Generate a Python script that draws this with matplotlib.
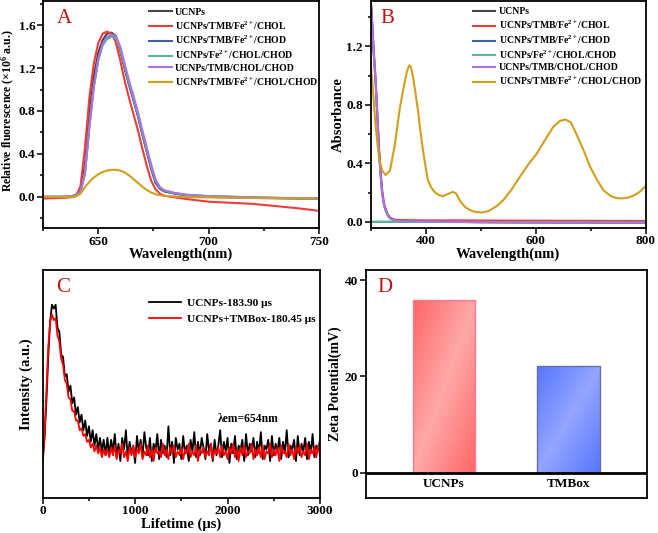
import numpy as np
import matplotlib
matplotlib.use('Agg')
import matplotlib.pyplot as plt
from matplotlib.ticker import MultipleLocator

plt.rcParams['font.family'] = ['Liberation Serif', 'DejaVu Serif']
plt.rcParams['font.weight'] = 'bold'
plt.rcParams['axes.labelweight'] = 'bold'
plt.rcParams['mathtext.fontset'] = 'custom'
plt.rcParams['mathtext.rm'] = 'Liberation Serif:bold'
plt.rcParams['mathtext.bf'] = 'Liberation Serif:bold'
plt.rcParams['mathtext.it'] = 'Liberation Serif:bold:italic'

### data
labels = ['UCNPs', 'UCNPs/TMB/Fe$^{2+}$/CHOL', 'UCNPs/TMB/Fe$^{2+}$/CHOD',
          'UCNPs/Fe$^{2+}$/CHOL/CHOD', 'UCNPs/TMB/CHOL/CHOD', 'UCNPs/TMB/Fe$^{2+}$/CHOL/CHOD']
colors = ['#454545', '#f23a3a', '#3b60a6', '#58b89e', '#ac72de', '#d29f1c']

# panel A - fluorescence
wl_a = [625, 630, 635, 638, 640, 642, 644, 646, 648, 650, 652, 654, 656, 658, 660, 662, 664,
        666, 668, 670, 672, 674, 676, 678, 680, 685, 690, 700, 710, 720, 730, 740, 750]
fl_ucnp = [0.0, 0.0, 0.0, 0.005, 0.02, 0.07, 0.30, 0.78, 1.12, 1.34, 1.46, 1.52, 1.53, 1.50, 1.36, 1.19,
           1.04, 0.90, 0.75, 0.58, 0.42, 0.26, 0.13, 0.075, 0.05, 0.03, 0.015, 0.0, -0.005, -0.01,
           -0.012, -0.015, -0.018]
fl_chol = [-0.015, -0.012, -0.008, -0.003, 0.01, 0.10, 0.45, 0.92, 1.24, 1.43, 1.52, 1.54, 1.52, 1.44,
           1.27, 1.08, 0.92, 0.77, 0.62, 0.45, 0.29, 0.15, 0.07, 0.03, 0.01, -0.005, -0.02, -0.045,
           -0.055, -0.065, -0.085, -0.105, -0.13]
fl_chod = [0.0, 0.0, 0.0, 0.005, 0.015, 0.05, 0.22, 0.66, 1.03, 1.28, 1.42, 1.48, 1.50, 1.49, 1.38,
           1.21, 1.05, 0.91, 0.76, 0.59, 0.43, 0.27, 0.14, 0.08, 0.055, 0.03, 0.015, 0.005, 0.0,
           -0.005, -0.01, -0.012, -0.015]
fl_fe = [0.0, 0.0, 0.0, 0.005, 0.015, 0.05, 0.22, 0.65, 1.02, 1.27, 1.41, 1.47, 1.49, 1.48, 1.38,
         1.21, 1.06, 0.92, 0.77, 0.60, 0.44, 0.28, 0.15, 0.085, 0.06, 0.035, 0.02, 0.008, 0.002,
         -0.004, -0.008, -0.012, -0.015]
fl_tmb = [0.0, 0.0, 0.0, 0.005, 0.015, 0.05, 0.22, 0.65, 1.02, 1.28, 1.43, 1.49, 1.51, 1.50, 1.40,
          1.24, 1.08, 0.94, 0.79, 0.62, 0.46, 0.30, 0.16, 0.09, 0.06, 0.035, 0.02, 0.005, 0.0,
          -0.005, -0.01, -0.012, -0.015]
fl_all = [0.0, 0.0, 0.0, 0.002, 0.005, 0.03, 0.09, 0.14, 0.18, 0.21, 0.232, 0.245, 0.252, 0.252,
          0.245, 0.228, 0.20, 0.165, 0.13, 0.095, 0.065, 0.04, 0.025, 0.015, 0.01, 0.004, 0.0,
          -0.005, -0.008, -0.01, -0.012, -0.014, -0.016]

# panel B - absorbance
wl_b = [300, 302, 305, 309, 312, 315, 318, 321, 324, 327, 331, 335, 340, 344, 350, 360, 380, 400,
        450, 500, 600, 700, 800]
ab_chol = [1.52, 1.41, 1.20, 0.97, 0.74, 0.51, 0.34, 0.21, 0.13, 0.09, 0.05, 0.03, 0.02, 0.015,
           0.013, 0.012, 0.011, 0.01, 0.01, 0.009, 0.008, 0.007, 0.006]
ab_chod = [1.52, 1.40, 1.18, 0.95, 0.72, 0.49, 0.32, 0.19, 0.12, 0.08, 0.045, 0.025, 0.015, 0.01,
           0.006, 0.004, 0.003, 0.002, 0.0, -0.002, -0.004, -0.005, -0.006]
ab_tmb = [1.52, 1.40, 1.18, 0.95, 0.72, 0.49, 0.32, 0.19, 0.12, 0.08, 0.045, 0.025, 0.015, 0.01,
          0.006, 0.004, 0.003, 0.002, 0.0, -0.002, -0.004, -0.005, -0.006]
wl_flat = [300, 400, 500, 600, 700, 800]
ab_ucnp = [0.0, 0.0, -0.002, -0.003, -0.004, -0.005]
ab_fe = [0.0, 0.0, -0.001, -0.002, -0.003, -0.004]
wl_b_all = [300, 304, 309, 315, 321, 327, 335, 344, 353, 362, 366, 370, 373, 377, 381, 386, 390,
            395, 400, 404, 410, 416, 423, 431, 440, 449, 455, 460, 464, 472, 482, 490, 502, 515,
            530, 541, 556, 571, 586, 602, 617, 632, 644, 654, 664, 674, 687, 699, 711, 723, 735,
            746, 756, 767, 778, 789, 800]
ab_all = [1.08, 0.90, 0.65, 0.44, 0.35, 0.32, 0.35, 0.53, 0.78, 0.96, 1.03, 1.07, 1.06, 0.99, 0.89,
          0.76, 0.63, 0.49, 0.37, 0.285, 0.235, 0.205, 0.185, 0.175, 0.19, 0.205, 0.195, 0.16,
          0.135, 0.10, 0.078, 0.068, 0.064, 0.075, 0.11, 0.148, 0.22, 0.307, 0.39, 0.467, 0.56,
          0.65, 0.69, 0.70, 0.68, 0.60, 0.49, 0.376, 0.29, 0.217, 0.18, 0.163, 0.16, 0.165, 0.18,
          0.205, 0.245]

# panel C - lifetime decay (0 to 3000 us, every 20 us)
decay_ucnp = [0.19, 0.31, 0.50, 0.73, 0.91, 1.00, 0.98, 1.00, 0.88, 0.86, 0.74, 0.73, 0.63, 0.64,
              0.55, 0.58, 0.49, 0.52, 0.43, 0.47, 0.39, 0.43, 0.35, 0.40, 0.32, 0.37, 0.29, 0.35,
              0.27, 0.33, 0.25, 0.31, 0.24, 0.30, 0.22, 0.31,
              0.22, 0.30, 0.24, 0.33, 0.21, 0.28, 0.19, 0.31, 0.25, 0.35, 0.20, 0.29, 0.23, 0.27,
              0.18, 0.32, 0.24, 0.30, 0.21, 0.34, 0.26, 0.22, 0.31, 0.19, 0.28, 0.24, 0.33, 0.20,
              0.30, 0.23, 0.27, 0.21, 0.37, 0.22, 0.29, 0.18, 0.31, 0.25, 0.28, 0.20, 0.32, 0.23,
              0.27, 0.19, 0.30, 0.24, 0.34, 0.21, 0.29, 0.22, 0.31, 0.26, 0.20, 0.33, 0.24, 0.28,
              0.19, 0.30, 0.22, 0.27, 0.35, 0.21, 0.29, 0.24, 0.31, 0.18, 0.28, 0.23, 0.32, 0.20,
              0.27, 0.25, 0.30, 0.19, 0.33, 0.22, 0.28, 0.24, 0.31, 0.21, 0.29, 0.23, 0.34, 0.20,
              0.27, 0.25, 0.30, 0.19, 0.32, 0.22, 0.28, 0.24, 0.31, 0.20, 0.29, 0.23, 0.35, 0.21,
              0.27, 0.25, 0.30, 0.19, 0.32, 0.22, 0.28, 0.24, 0.31, 0.20, 0.29, 0.23, 0.33, 0.21,
              0.27, 0.25, 0.30]
decay_tmbox = [0.19, 0.33, 0.55, 0.78, 0.91, 0.95, 0.92, 0.93, 0.84, 0.81, 0.72, 0.69, 0.61, 0.59,
               0.52, 0.51, 0.45, 0.45, 0.40, 0.40, 0.35, 0.36, 0.32, 0.33, 0.29, 0.30, 0.26, 0.28,
               0.24, 0.27, 0.23, 0.26, 0.21, 0.25, 0.22, 0.25,
               0.21, 0.26, 0.22, 0.27, 0.20, 0.25, 0.23, 0.28, 0.21, 0.24, 0.19, 0.26, 0.22, 0.27,
               0.21, 0.25, 0.23, 0.28, 0.20, 0.24, 0.22, 0.27, 0.21, 0.25, 0.19, 0.26, 0.23, 0.24,
               0.21, 0.28, 0.22, 0.25, 0.20, 0.26, 0.23, 0.27, 0.21, 0.24, 0.22, 0.26, 0.20, 0.25,
               0.23, 0.28, 0.21, 0.24, 0.22, 0.27, 0.19, 0.25, 0.23, 0.26, 0.21, 0.24, 0.22, 0.28,
               0.20, 0.25, 0.23, 0.26, 0.21, 0.27, 0.22, 0.24, 0.20, 0.26, 0.23, 0.28, 0.21, 0.25,
               0.19, 0.26, 0.22, 0.27, 0.21, 0.24, 0.23, 0.28, 0.20, 0.25, 0.22, 0.26, 0.21, 0.27,
               0.20, 0.24, 0.23, 0.28, 0.21, 0.25, 0.22, 0.26, 0.19, 0.27, 0.23, 0.24, 0.21, 0.28,
               0.22, 0.25, 0.20, 0.26, 0.23, 0.27, 0.21, 0.24, 0.22, 0.28, 0.20, 0.25, 0.23, 0.26,
               0.21, 0.27, 0.22]

# panel D - zeta potential
zeta_names = ['UCNPs', 'TMBox']
zeta_values = [35.8, 22.2]


def style_axes(ax):
    for sp in ax.spines.values():
        sp.set_linewidth(1.3)
    ax.tick_params(which='both', direction='out', width=1.1, labelsize=9.5, pad=1.5)
    ax.tick_params(which='major', length=4)
    ax.tick_params(which='minor', length=2.5)


def panel_letter(ax, letter, x, y):
    ax.text(x, y, letter, transform=ax.transAxes, fontsize=15, fontweight='normal',
            color='#c41010', ha='left', va='top')


fig = plt.figure(figsize=(6.58, 5.33), dpi=100)

leg_kw = dict(loc='upper left', frameon=False, fontsize=7, handlelength=2.3,
              handletextpad=0.35, labelspacing=0.25, borderpad=0, borderaxespad=0)

### panel A
axA = fig.add_axes([0.0653, 0.5722, 0.4195, 0.425])
series_a = [fl_ucnp, fl_chol, fl_chod, fl_fe, fl_tmb, fl_all]
for vals, c, lab in zip(series_a, colors, labels):
    axA.plot(wl_a, vals, color=c, lw=1.5, label=lab)
axA.set_xlim(625, 750)
axA.set_ylim(-0.29, 1.82)
axA.set_xticks([650, 700, 750])
axA.set_yticks([0.0, 0.4, 0.8, 1.2, 1.6])
axA.xaxis.set_minor_locator(MultipleLocator(25))
axA.yaxis.set_minor_locator(MultipleLocator(0.2))
axA.set_xlabel('Wavelength(nm)', fontsize=10.5)
axA.set_ylabel('Relative fluorescence (×10$^{6}$ a.u.)', fontsize=8.5)
axA.xaxis.set_label_coords(0.5, -0.088)
axA.yaxis.set_label_coords(-0.094, 0.52)
style_axes(axA)
axA.legend(bbox_to_anchor=(0.385, 0.972), **leg_kw)
panel_letter(axA, 'A', 0.05, 0.965)

### panel B
axB = fig.add_axes([0.5634, 0.5728, 0.4179, 0.4253])
axB.plot(wl_flat, ab_ucnp, color=colors[0], lw=1.5, label=labels[0])
axB.plot(wl_b, ab_chol, color=colors[1], lw=1.5, label=labels[1])
axB.plot(wl_b, ab_chod, color=colors[2], lw=1.5, label=labels[2])
axB.plot(wl_flat, ab_fe, color=colors[3], lw=1.5, label=labels[3])
axB.plot(wl_b, ab_tmb, color=colors[4], lw=1.5, label=labels[4])
axB.plot(wl_b_all, ab_all, color=colors[5], lw=1.5, label=labels[5])
axB.set_xlim(300, 800)
axB.set_ylim(-0.04, 1.51)
axB.set_xticks([400, 600, 800])
axB.set_yticks([0.0, 0.4, 0.8, 1.2])
axB.xaxis.set_minor_locator(MultipleLocator(100))
axB.yaxis.set_minor_locator(MultipleLocator(0.2))
axB.set_xlabel('Wavelength(nm)', fontsize=10.5)
axB.set_ylabel('Absorbance', fontsize=10.5)
axB.xaxis.set_label_coords(0.5, -0.088)
axB.yaxis.set_label_coords(-0.094, 0.5)
style_axes(axB)
axB.legend(bbox_to_anchor=(0.372, 0.972), **leg_kw)
panel_letter(axB, 'B', 0.035, 0.965)

### panel C
axC = fig.add_axes([0.0649, 0.0662, 0.4214, 0.4272])
t_ucnp = np.linspace(0, 3000, len(decay_ucnp))
t_tmbox = np.linspace(0, 3000, len(decay_tmbox))
axC.plot(t_ucnp, decay_ucnp, color='black', lw=1.3, label='UCNPs-183.90 μs')
axC.plot(t_tmbox, decay_tmbox, color='#ff0000', lw=1.3, label='UCNPs+TMBox-180.45 μs')
axC.set_xlim(0, 3000)
axC.set_ylim(0, 1.18)
axC.set_xticks([0, 1000, 2000, 3000])
axC.xaxis.set_minor_locator(MultipleLocator(500))
axC.set_yticks([])
axC.set_xlabel('Lifetime (μs)', fontsize=10.5)
axC.set_ylabel('Intensity (a.u.)', fontsize=10.5)
axC.xaxis.set_label_coords(0.5, -0.088)
axC.yaxis.set_label_coords(-0.035, 0.5)
style_axes(axC)
axC.legend(loc='upper left', bbox_to_anchor=(0.385, 0.875), frameon=False, fontsize=8.2,
           handlelength=2.8, handletextpad=0.5, labelspacing=0.5, borderpad=0, borderaxespad=0)
axC.text(0.63, 0.345, 'λem=654nm', transform=axC.transAxes, fontsize=8.4, ha='left', va='center')
panel_letter(axC, 'C', 0.05, 0.965)

### panel D
axD = fig.add_axes([0.5558, 0.0662, 0.4271, 0.4281])
pos = [1, 2]
bars = axD.bar(pos, zeta_values, width=0.5, color='none', zorder=3)
bar_dark = [np.array([1.0, 0.40, 0.40]), np.array([0.34, 0.46, 1.0])]
bar_light = [np.array([1.0, 0.66, 0.66]), np.array([0.58, 0.65, 1.0])]
bar_edge = ['#ff7a96', '#6b6f9e']
uu, vv = np.meshgrid(np.linspace(0, 1, 60), np.linspace(0, 1, 60))
diag = (uu + vv) / 2
mix = 1 - np.abs(2 * diag - 1)
for b, dk, lt, ec in zip(bars, bar_dark, bar_light, bar_edge):
    img = dk + (lt - dk) * mix[..., None]
    x0, w, h = b.get_x(), b.get_width(), b.get_height()
    im = axD.imshow(img, extent=[x0, x0 + w, 0, h], aspect='auto', zorder=2)
    im.set_clip_path(b)
    b.set_edgecolor(ec)
    b.set_linewidth(1.0)
axD.axhline(0, color='black', lw=2.0, zorder=4)
axD.set_xlim(0.375, 2.625)
axD.set_ylim(-5.2, 42.2)
axD.set_xticks([])
for p, name in zip(pos, zeta_names):
    axD.text(p, -2.3, name, ha='center', va='center', fontsize=9.5)
axD.set_yticks([0, 20, 40])
axD.set_ylabel('Zeta Potential(mV)', fontsize=10)
axD.yaxis.set_label_coords(-0.084, 0.5)
style_axes(axD)
panel_letter(axD, 'D', 0.04, 0.965)

fig.savefig('out.png', dpi=100)
